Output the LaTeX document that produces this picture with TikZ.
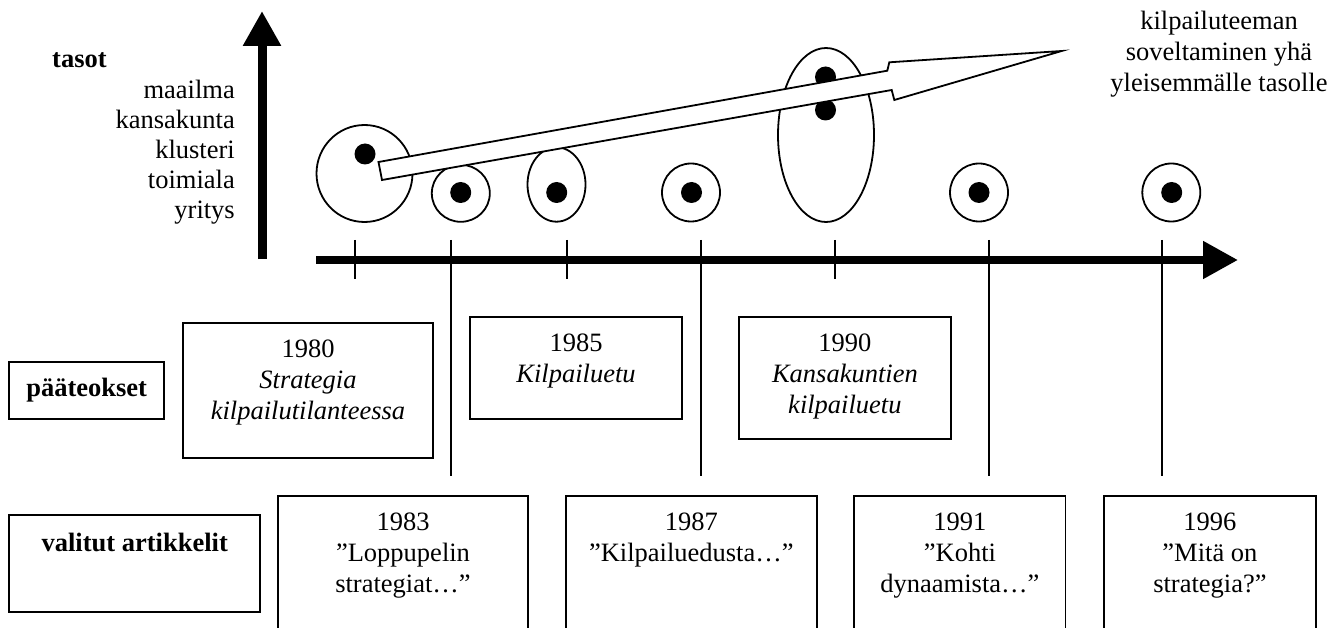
\documentclass[tikz,border=0pt]{standalone}
\usepackage{fontspec}
\setmainfont{Liberation Serif}
\usetikzlibrary{arrows.meta,shapes.geometric}
\begin{document}
\begin{tikzpicture}[x=1pt,y=-1pt,
  thin line/.style={line width=1.8pt},
  bigaxis/.style={line width=#1, -{Triangle[length=35pt,width=36pt]}},
  ring/.style={thin line, draw=black, fill=white, ellipse, inner sep=0pt},
  dot/.style={fill=black, circle, inner sep=0pt, minimum size=21pt},
  box/.style={thin line, draw=black, rectangle, inner sep=0pt},
  txt/.style={inner sep=0pt, font=\fontsize{26.5}{31}\selectfont, align=center},
  boxtxt/.style={txt, anchor=north},
  level/.style={txt, anchor=base east}
]
\useasboundingbox (0,0) rectangle (1340,628);
\clip (0,0) rectangle (1340,628);

% level axis and its labels
\coordinate (vbase) at (262,259);
\coordinate (vtip) at (262,11);
\draw[bigaxis=9pt] (vbase) -- (vtip);
\node[txt, anchor=base west, font=\fontsize{26.5}{31}\selectfont\bfseries] (tasot) at (52,68) {tasot};
\node[level] (lv1) at (235,98.3) {maailma};
\node[level] (lv2) at (235,128.3) {kansakunta};
\node[level] (lv3) at (235,158.3) {klusteri};
\node[level] (lv4) at (235,188.3) {toimiala};
\node[level] (lv5) at (235,218.3) {yritys};

% time axis
\coordinate (tstart) at (316,260);
\coordinate (tend) at (1238,260);
\draw[bigaxis=8pt] (tstart) -- (tend);

% short ticks for the main works
\coordinate (k80) at (355,240);
\coordinate (k85) at (566.7,240);
\coordinate (k90) at (835,240);
\foreach \k in {k80,k85,k90} \draw[thin line] (\k) -- ++(0,39);

% level rings with their dots
\node[ring, minimum width=96pt, minimum height=97pt] (r80) at (364.5,173.5) {};
\node[ring, minimum width=58pt, minimum height=57pt] (r83) at (460.8,193.3) {};
\node[ring, minimum width=58pt, minimum height=74.4pt] (r85) at (556.5,184.5) {};
\node[ring, minimum width=58pt, minimum height=58pt] (r87) at (691,192.5) {};
\node[ring, minimum width=96pt, minimum height=174pt] (r90) at (826,135) {};
\node[ring, minimum width=58pt, minimum height=58pt] (r91) at (979,192.5) {};
\node[ring, minimum width=58pt, minimum height=58pt] (r96) at (1171.3,192.5) {};

\node[dot] (d80) at (365,154) {};
\node[dot] (d83) at (460.7,192.5) {};
\node[dot] (d85) at (556.7,192.5) {};
\node[dot] (d87) at (691.5,192.5) {};
\node[dot] (d90a) at (825.5,77) {};
\node[dot] (d90b) at (825.5,110) {};
\node[dot] (d91) at (979,192.5) {};
\node[dot] (d96) at (1171.7,192.5) {};

% hollow arrow: the theme moves to ever broader levels
\draw[thin line, fill=white, line join=miter]
  (378.5,162) -- (887.3,70.7) -- (889.3,62.3) -- (1061.7,51)
  -- (894.3,100) -- (891.7,90) -- (382,180) -- cycle;
\node[txt, anchor=north] (theme) at (1219,11.3)
  {kilpailuteeman\\soveltaminen yhä\\yleisemmälle tasolle};

% main works
\node[box, minimum width=154.7pt, minimum height=57.3pt, font=\fontsize{26.5}{31}\selectfont\bfseries] (pt) at (86.7,390.3) {pääteokset};
\node[box, minimum width=250.6pt, minimum height=134.4pt] (b80) at (308,390.5) {};
\node[box, minimum width=212pt, minimum height=102pt] (b85) at (576,368.3) {};
\node[box, minimum width=211.7pt, minimum height=121.6pt] (b90) at (844.9,378) {};
\node[boxtxt] (t80) at ([yshift=-17.4pt]b80.north) {1980\\\textit{Strategia}\\\textit{kilpailutilanteessa}};
\node[boxtxt] (t85) at ([yshift=-17.4pt]b85.north) {1985\\\textit{Kilpailuetu}};
\node[boxtxt] (t90) at ([yshift=-17.4pt]b90.north) {1990\\\textit{Kansakuntien}\\\textit{kilpailuetu}};

% selected articles
\node[box, minimum width=250.7pt, minimum height=96.4pt] (va) at (134.7,563.5) {};
\node[txt, anchor=base, font=\fontsize{26.5}{31}\selectfont\bfseries] (vat) at (134.7,551.7) {valitut artikkelit};
\node[box, minimum width=250.6pt, minimum height=160pt] (b83) at (403,576) {};
\node[box, minimum width=250.7pt, minimum height=160pt] (b87) at (691.3,576) {};
\node[box, minimum width=211.2pt, minimum height=160pt] (b91) at (959.9,576) {};
\node[box, minimum width=211.4pt, minimum height=160pt] (b96) at (1209.9,576) {};
\node[boxtxt] (t83) at ([yshift=-18pt]b83.north) {1983\\"Loppupelin\\strategiat…”};
\node[boxtxt] (t87) at ([yshift=-17.4pt]b87.north) {1987\\"Kilpailuedusta…”};
\node[boxtxt] (t91) at ([yshift=-18pt]b91.north) {1991\\"Kohti\\dynaamista…”};
\node[boxtxt] (t96) at ([yshift=-18pt]b96.north) {1996\\"Mitä on\\strategia?”};

% long ticks reaching down towards the articles
\coordinate (k83) at (451,240);
\coordinate (k87) at (700.7,240);
\coordinate (k91) at (989,240);
\coordinate (k96) at (1161.7,240);
\foreach \k/\b in {k83/b83,k87/b87,k91/b91,k96/b96}
  \draw[thin line] (\k) -- ([yshift=19pt]\b.north -| \k);
\end{tikzpicture}
\end{document}
